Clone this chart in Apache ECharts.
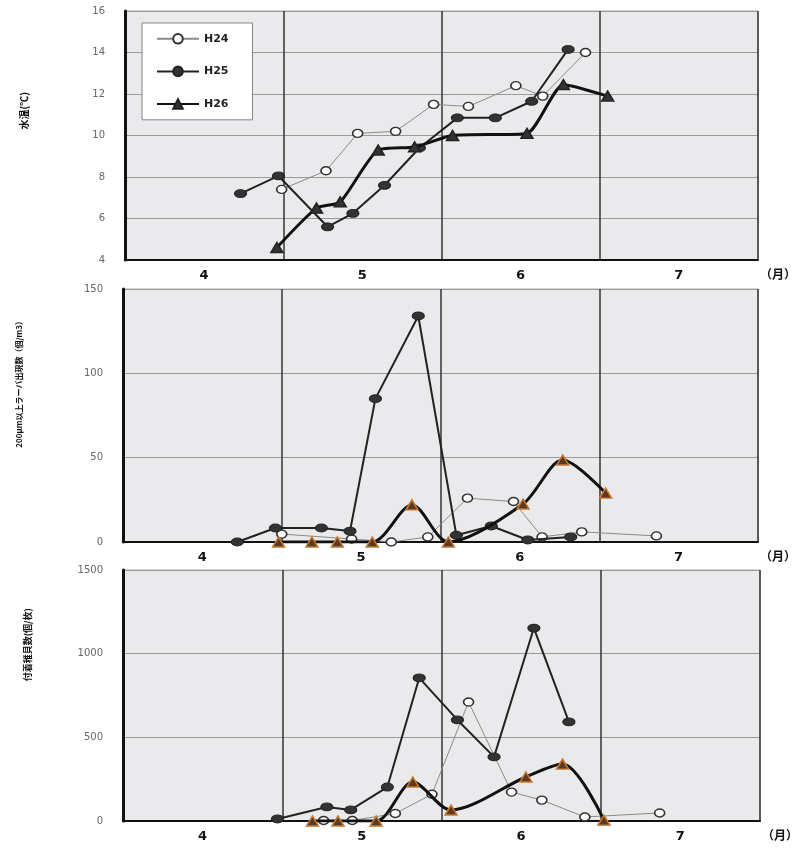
<!DOCTYPE html>
<html>
<head>
<meta charset="utf-8">
<script src="https://cdn.jsdelivr.net/npm/echarts@6/dist/echarts.min.js"></script>
<style>
  html, body { margin: 0; padding: 0; background: #fff; }
  #main { width: 811px; height: 849px; }
</style>
</head>
<body>
<div id="main"></div>
<script>
// month bands on the x axis
let months = ["4", "5", "6", "7"];
let seriesNames = ["H24", "H25", "H26"];

// [month position, value]
// water temperature
let tempH24 = [[4.99, 7.4], [5.27, 8.3], [5.47, 10.1], [5.71, 10.2], [5.95, 11.5], [6.17, 11.4], [6.47, 12.4], [6.64, 11.9], [6.91, 14.0]];
let tempH25 = [[4.73, 7.2], [4.97, 8.05], [5.28, 5.6], [5.44, 6.25], [5.64, 7.6], [5.86, 9.4], [6.10, 10.85], [6.34, 10.85], [6.57, 11.65], [6.80, 14.15]];
let tempH26 = [[4.96, 4.6], [5.21, 6.5], [5.36, 6.8], [5.60, 9.3], [5.83, 9.45], [6.07, 10.0], [6.54, 10.1], [6.77, 12.45], [7.05, 11.9]];

// larvae over 200um
let larvaH24 = [[5.00, 4.7], [5.44, 1.8], [5.69, 0], [5.92, 3], [6.17, 26], [6.46, 24], [6.64, 3], [6.89, 6], [7.36, 3.6]];
let larvaH25 = [[4.72, 0], [4.96, 8.3], [5.25, 8.3], [5.43, 6.5], [5.59, 85], [5.86, 134], [6.10, 4], [6.32, 9.5], [6.55, 1.2], [6.82, 3]];
let larvaH26 = [[4.98, 0], [5.19, 0], [5.35, 0], [5.57, 0], [5.82, 22], [6.05, 0], [6.52, 22.5], [6.77, 48.6], [7.04, 29]];

// settled spat
let spatH24 = [[5.26, 3], [5.44, 3], [5.71, 45], [5.94, 160], [6.17, 711], [6.44, 173], [6.63, 125], [6.90, 24], [7.37, 48]];
let spatH25 = [[4.97, 12], [5.28, 84], [5.43, 66], [5.66, 203], [5.86, 855], [6.10, 604], [6.33, 383], [6.58, 1153], [6.80, 592]];
let spatH26 = [[5.19, 0], [5.35, 0], [5.59, 0], [5.82, 233], [6.06, 66], [6.53, 263], [6.76, 340], [7.02, 5]];

let panels = [
    { top: 11, left: 125, width: 633, height: 249, min: 4, max: 16, interval: 2, data: [tempH24, tempH25, tempH26], tri: "#333" },
    { top: 289, left: 123, width: 635, height: 253, min: 0, max: 150, interval: 50, data: [larvaH24, larvaH25, larvaH26], tri: "#5a3a22" },
    { top: 570, left: 123, width: 637, height: 251, min: 0, max: 1500, interval: 500, data: [spatH24, spatH25, spatH26], tri: "#5a3a22" }
];

let grids = [];
let xAxes = [];
let yAxes = [];
let series = [];

for (let i = 0; i < panels.length; i = i + 1) {
    let p = panels[i];
    grids.push({
        left: p.left, top: p.top, width: p.width, height: p.height,
        show: true, backgroundColor: "#eaeaed", borderColor: "#aaa", borderWidth: 1
    });
    // category axis: month labels and month boundary lines
    xAxes.push({
        gridIndex: i,
        type: "category",
        data: months,
        boundaryGap: true,
        name: "（月）",
        nameLocation: "end",
        nameGap: 2,
        nameTextStyle: { color: "#111", fontSize: 12, fontWeight: "bold", verticalAlign: "top", padding: [8, 0, 0, 0], fontFamily: "Noto Sans CJK JP" },
        axisLine: { show: true, lineStyle: { color: "#111", width: 2 } },
        axisTick: { show: false },
        axisLabel: { color: "#111", fontSize: 13, fontWeight: "bold", margin: 9, fontFamily: "DejaVu Sans" },
        splitLine: { show: true, lineStyle: { color: "#333", width: 1.5 } }
    });
    // value axis used for placing the points
    xAxes.push({
        gridIndex: i,
        type: "value",
        min: 4,
        max: 8,
        show: false
    });
    yAxes.push({
        gridIndex: i,
        type: "value",
        min: p.min,
        max: p.max,
        interval: p.interval,
        axisLine: { show: true, lineStyle: { color: "#111", width: 3 } },
        axisTick: { show: false },
        axisLabel: {
            color: "#666", fontSize: 10, margin: 20, fontFamily: "DejaVu Sans",
            formatter: function (v) { return String(v); }
        },
        splitLine: { show: true, lineStyle: { color: "#9a9a9a", width: 1 } }
    });

    series.push({
        name: seriesNames[0], type: "line", xAxisIndex: i * 2 + 1, yAxisIndex: i,
        data: p.data[0],
        symbol: "circle", symbolSize: [10, 8],
        lineStyle: { color: "#8a8a8a", width: 1 },
        itemStyle: { color: "#fff", borderColor: "#333", borderWidth: 1.5 },
        z: 3
    });
    series.push({
        name: seriesNames[1], type: "line", xAxisIndex: i * 2 + 1, yAxisIndex: i,
        data: p.data[1],
        symbol: "circle", symbolSize: [12, 8],
        lineStyle: { color: "#222", width: 2 },
        itemStyle: { color: "#333", borderColor: "#222", borderWidth: 1 },
        z: 4
    });
    series.push({
        name: seriesNames[2], type: "line", xAxisIndex: i * 2 + 1, yAxisIndex: i,
        data: p.data[2],
        smooth: i === 0 ? 0.2 : 0.3,
        symbol: "triangle", symbolSize: [12, 10],
        lineStyle: { color: "#111", width: 3 },
        itemStyle: { color: p.tri, borderColor: i === 0 ? "#222" : "#c8782f", borderWidth: 1.5 },
        z: 5
    });
}

let myChart = echarts.init(document.getElementById("main"));

let option = {
    backgroundColor: "#fff",
    animation: false,
    grid: grids,
    xAxis: xAxes,
    yAxis: yAxes,
    legend: {
        data: seriesNames,
        orient: "vertical",
        left: 142,
        top: 23,
        padding: [10, 24, 10, 14],
        itemWidth: 42,
        itemHeight: 12,
        itemGap: 21,
        backgroundColor: "#fff",
        borderColor: "#888",
        borderWidth: 1,
        textStyle: { color: "#222", fontSize: 11, fontWeight: "bold", fontFamily: "DejaVu Sans" }
    },
    graphic: [
        {
            type: "text", left: 19, top: 92, rotation: Math.PI / 2,
            style: { text: "水温(℃)", fill: "#111", font: "bold 10px 'Noto Sans CJK JP'" }
        },
        {
            type: "text", left: 15, top: 317, rotation: Math.PI / 2,
            style: { text: "200μm以上ラーバ出現数（個/m3）", fill: "#111", font: "bold 8px 'Noto Sans CJK JP'" }
        },
        {
            type: "text", left: 23, top: 608, rotation: Math.PI / 2,
            style: { text: "付着稚貝数(個/枚)", fill: "#111", font: "bold 9px 'Noto Sans CJK JP'" }
        }
    ],
    series: series
};

myChart.setOption(option);
</script>
</body>
</html>
